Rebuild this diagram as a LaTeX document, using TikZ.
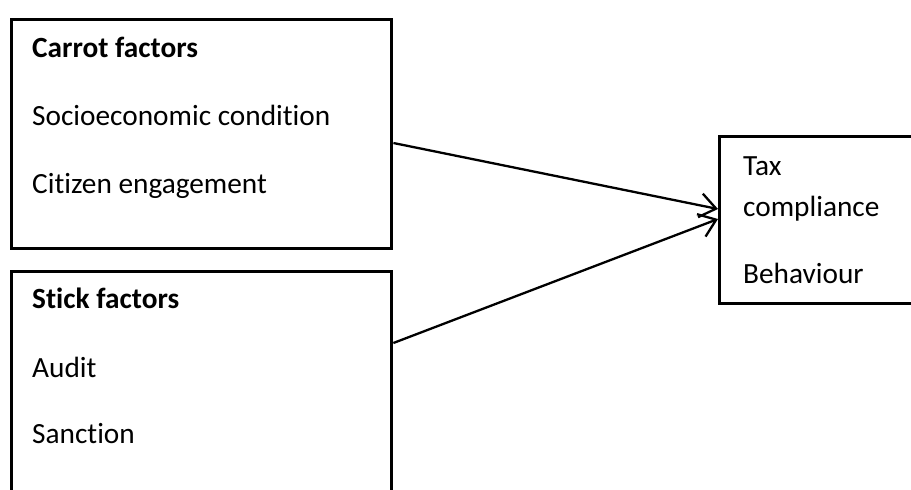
\documentclass[tikz,border=0pt]{standalone}
\usepackage{fontspec}
\setmainfont{Carlito}[RawFeature=-liga]
\usetikzlibrary{arrows.meta}

\begin{document}
\begin{tikzpicture}[x=1pt,y=-1pt,>={Straight Barb[length=16pt,width=24pt]},
	box/.style={draw,line width=3.4pt,inner sep=0pt,anchor=north west},
	txt/.style={anchor=base west,inner sep=0pt,font=\fontsize{29.3}{35}\selectfont},
	link/.style={->,line width=2.3pt}]
	\useasboundingbox (0,0) rectangle (911,490);
	\clip (0,0) rectangle (911,490);
	% boxes
	\node[box,minimum width=380pt,minimum height=229pt] (carrot) at (10,18) {};
	\node[box,minimum width=380pt,minimum height=270pt] (stick) at (10,270) {};
	\node[box,minimum width=250pt,minimum height=167pt] (tax) at (718,135) {};
	% texts
	\node[txt] (c1) at ([xshift=22pt,yshift=-39pt]carrot.north west) {\textbf{Carrot factors}};
	\node[txt] (c2) at ([xshift=22pt,yshift=-107pt]carrot.north west) {Socioeconomic condition};
	\node[txt] (c3) at ([xshift=22pt,yshift=-175pt]carrot.north west) {Citizen engagement};
	\node[txt] (s1) at ([xshift=22pt,yshift=-38pt]stick.north west) {\textbf{Stick factors}};
	\node[txt] (s2) at ([xshift=22pt,yshift=-107pt]stick.north west) {Audit};
	\node[txt] (s3) at ([xshift=22pt,yshift=-173pt]stick.north west) {Sanction};
	\node[txt] (t1) at ([xshift=25pt,yshift=-40pt]tax.north west) {Tax};
	\node[txt] (t2) at ([xshift=25pt,yshift=-81pt]tax.north west) {compliance};
	\node[txt] (t3) at ([xshift=25pt,yshift=-148pt]tax.north west) {Behaviour};
	% arrows
	\draw[link] ([yshift=-125pt]carrot.north east) -- ([yshift=-74pt]tax.north west);
	\draw[link] ([yshift=-73pt]stick.north east) -- ([yshift=-84pt]tax.north west);
\end{tikzpicture}
\end{document}
